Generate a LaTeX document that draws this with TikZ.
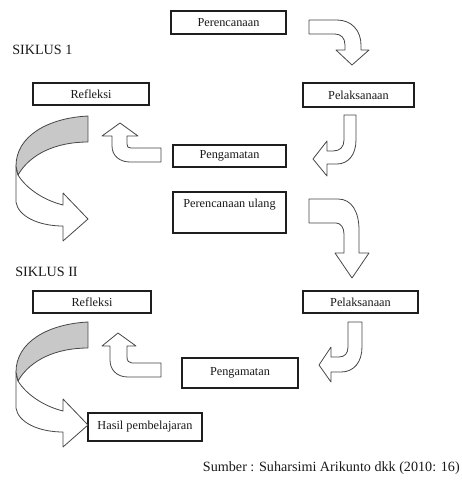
\documentclass[tikz,border=0pt]{standalone}
\usepackage{fontspec}
\setmainfont{Liberation Serif}
\definecolor{boxline}{RGB}{30,30,30}
\definecolor{arrline}{RGB}{70,70,70}
\definecolor{backface}{RGB}{200,200,200}
\definecolor{txtcol}{RGB}{25,25,25}
\tikzset{
  box/.style={draw=boxline, line width=0.9pt, fill=white, inner sep=0pt,
    font=\fontsize{9.2}{11}\selectfont, text=txtcol},
  plain/.style={inner sep=0pt, font=\fontsize{9.2}{11}\selectfont, text=txtcol},
  heading/.style={inner sep=0pt, font=\fontsize{10.6}{12}\selectfont, text=txtcol},
  blockarrow/.style={draw=arrline, line width=0.6pt, fill=white, line join=round},
  backside/.style={blockarrow, fill=backface},
  bigturn/.pic={
    \draw[blockarrow] (-72,50) -- (-72,86) .. controls (-70,100) and (-50,110) .. (-25,110)
      -- (-25,125) -- (0,103) -- (-25,77) -- (-25,89)
      .. controls (-45,84) and (-62,72) .. (-70,59) -- cycle;
    \draw[backside] (0,0) .. controls (-40,2) and (-72,20) .. (-72,50) -- (-70,59)
      .. controls (-58,38) and (-32,26) .. (0,26) -- cycle;
  }
}
\begin{document}
\begin{tikzpicture}[x=0.75pt,y=-0.75pt]
\useasboundingbox (0,0) rectangle (462,480);

% ---- cycle 1 ----
\node[box, minimum width=86.25pt, minimum height=17.25pt] (plan1) at (228.5,22.5) {Perencanaan};
\node[heading, anchor=west] (siklus1) at (12,50) {SIKLUS 1};
\node[box, minimum width=87pt, minimum height=16.5pt] (refl1) at (91,94) {Refleksi};
\node[box, minimum width=83.25pt, minimum height=18pt] (exec1) at (358.5,95) {Pelaksanaan};
\node[box, minimum width=84.75pt, minimum height=16.5pt] (obs1) at (229.5,156) {Pengamatan};
\node[box, minimum width=84.75pt, minimum height=30.75pt] (replan) at (229.5,212.5) {};
\node[plain] (replantext) at (229.5,205) {Perencanaan ulang};

% plan1 -> exec1
\draw[blockarrow] (309,20) -- (337,20) .. controls (352,20) and (361,31) .. (361,45)
  -- (361,50) -- (369,50) -- (352,65) -- (336,50) -- (345,50) -- (345,45)
  .. controls (345,38) and (341,34) .. (335,34) -- (309,34) -- cycle;
% exec1 -> obs1
\draw[blockarrow] (344,115) -- (356,115) -- (356,140) .. controls (356,155) and (348,164) .. (337,164)
  -- (327,164) -- (327,176) -- (313,159) -- (327,141) -- (327,151) -- (333,151)
  .. controls (340,151) and (344,147) .. (344,140) -- cycle;
% obs1 -> refl1
\draw[blockarrow] (161,148) -- (161,162) -- (130,162) .. controls (120,162) and (112,156) .. (112,146)
  -- (112,136) -- (102,136) -- (120,123) -- (138,136) -- (127,136) -- (127,144)
  .. controls (127,147) and (128,148) .. (131,148) -- cycle;
% refl1 -> replan
\pic at (88,116) {bigturn};
% replan -> exec2
\draw[blockarrow] (309,199) -- (338,199) .. controls (352,199) and (359,212) .. (359,230)
  -- (359,253) -- (369,253) -- (352,278) -- (335,253) -- (344,253) -- (344,234)
  .. controls (344,228) and (341,223) .. (336,223) -- (309,223) -- cycle;

% ---- cycle 2 ----
\node[heading, anchor=west] (siklus2) at (15,272) {SIKLUS II};
\node[box, minimum width=88.5pt, minimum height=16.5pt] (refl2) at (92,302) {Refleksi};
\node[box, minimum width=86.25pt, minimum height=16.5pt] (exec2) at (360.5,302) {Pelaksanaan};
\node[box, minimum width=87pt, minimum height=22.5pt] (obs2) at (240,373) {Pengamatan};
\node[box, minimum width=85.5pt, minimum height=21pt] (result) at (145,427) {Hasil pembelajaran};

% exec2 -> obs2
\draw[blockarrow] (348,322) -- (362,322) -- (362,347) .. controls (362,362) and (354,372) .. (341,372)
  -- (331,372) -- (331,382) -- (319,365) -- (331,347) -- (331,357) -- (339,357)
  .. controls (345,357) and (348,353) .. (348,347) -- cycle;
% obs2 -> refl2
\draw[blockarrow] (161,363) -- (161,377) -- (128,377) .. controls (117,377) and (110,370) .. (110,360)
  -- (110,346) -- (102,346) -- (118,333) -- (136,346) -- (127,346) -- (127,357)
  .. controls (127,361) and (129,363) .. (132,363) -- cycle;
% refl2 -> result
\pic at (88,322) {bigturn};

\node[heading, anchor=east] (source) at (460,468) {Sumber : Suharsimi Arikunto dkk (2010: 16)};
\end{tikzpicture}
\end{document}
